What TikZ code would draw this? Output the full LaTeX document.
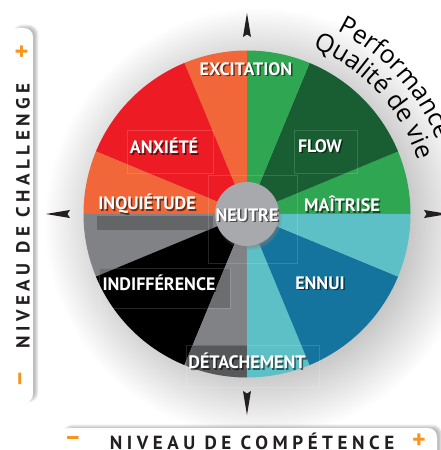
\documentclass[tikz,border=0pt]{standalone}
\usepackage{fontspec}
\setmainfont{PT Sans}
\newfontfamily\axisfont[LetterSpace=24]{PT Sans}
\newfontfamily\arcfont{Open Sans}
\usepackage{tikz}
\usetikzlibrary{shadows,shadows.blur,decorations.text}

\definecolor{lgreen}{HTML}{2EA652}
\definecolor{dgreen}{HTML}{185E32}
\definecolor{lorange}{HTML}{F26739}
\definecolor{mred}{HTML}{ED1C24}
\definecolor{mgray}{HTML}{808285}
\definecolor{lteal}{HTML}{5DC0C6}
\definecolor{mblue}{HTML}{14749D}
\definecolor{hubgray}{HTML}{A7A9AC}
\definecolor{ink}{HTML}{231F20}
\definecolor{signorange}{HTML}{F7941D}

\pgfdeclareradialshading{halo}{\pgfpoint{0bp}{0bp}}{color(0bp)=(black!26); color(16bp)=(black!26); color(25bp)=(white); color(50bp)=(white)}

\newcommand\lblfont{\bfseries\fontsize{18}{18}\selectfont}
\newcommand\curvefont{\arcfont\fontsize{25}{25}\selectfont}

\tikzstyle{lbl} = [font=\lblfont,text=white,inner sep=0pt]
\tikzstyle{lblshadow} = [font=\lblfont,text=black,text opacity=0.55,inner sep=0pt,xshift=1.5pt,yshift=-1.5pt]
\tikzstyle{bar} = [fill=white,rounded corners=9pt,blur shadow={shadow xshift=4pt,shadow yshift=2pt,shadow blur steps=10,shadow opacity=25}]
\tikzstyle{dimbox} = [fill=black,fill opacity=0.22]
\tikzstyle{ghost} = [draw=white,draw opacity=0.14,line width=0.5pt]
\tikzstyle{hub} = [circle,fill=hubgray,minimum size=64pt,inner sep=0pt,circular drop shadow={shadow xshift=2pt,shadow yshift=-3pt,shadow scale=1.04,opacity=0.6}]
\tikzstyle{spike} = [fill=ink]
\tikzstyle{axis} = [font=\axisfont\bfseries\fontsize{19}{19}\selectfont,text=ink,inner sep=0pt]
\tikzstyle{sign} = [font=\bfseries\fontsize{26}{26}\selectfont,text=signorange,inner sep=0pt]

\begin{document}
\begin{tikzpicture}[x=1pt,y=1pt]
    \def\R{163.5}
    \useasboundingbox (-247,-236) rectangle (193,214);

    % soft shadow round the wheel
    \shade[shading=halo] (12,-8) circle (215);

    % the two axis bars
    \draw[bar,draw=none] (-237,-189) rectangle (-214,186);
    \draw[bar,draw=none] (-187,-250) rectangle (190,-214);

    % sectors: 22.5 light, 45 dark, 22.5 light in each quadrant
    \foreach \s/\e/\c in {0/22.5/lgreen, 22.5/67.5/dgreen, 67.5/90/lgreen,
                          90/112.5/lorange, 112.5/157.5/mred, 157.5/180/lorange,
                          180/202.5/mgray, 202.5/247.5/black, 247.5/270/mgray,
                          270/292.5/lteal, 292.5/337.5/mblue, 337.5/360/lteal}
      \fill[\c] (0,0) -- (\s:\R) arc (\s:\e:\R) -- cycle;

    % darker bands over the grey sectors
    \begin{scope}
      \clip (0,0) -- (180:\R) arc (180:202.5:\R) -- cycle
            (0,0) -- (247.5:\R) arc (247.5:270:\R) -- cycle;
      \fill[dimbox] (-150,-2) rectangle (-34,-16);
      \fill[dimbox,fill opacity=0.16] (-148,-54) rectangle (-17,-94);
      \fill[dimbox,fill opacity=0.32] (-61,-131) rectangle (72,-173);
    \end{scope}

    % faint frames
    \draw[ghost] (-120,84) rectangle (-34,41);
    \draw[ghost] (47,84) rectangle (110,41);
    \draw[ghost] (-39,39) rectangle (50,-49);
    \draw[ghost] (-148,-54) rectangle (-17,-94);
    \draw[ghost] (-61,-131) rectangle (72,-173);

    \node[hub] (hub) at (0,0) {};

    \foreach \x/\y/\name/\txt in {-1/145/excitation/EXCITATION, -83/68/anxiete/ANXIÉTÉ,
                                  73/68/flow/FLOW, -100/10/inquietude/INQUIÉTUDE,
                                  95/10/maitrise/MAÎTRISE, 0/-1/neutre/NEUTRE,
                                  -88/-69/indifference/INDIFFÉRENCE, 73/-69/ennui/ENNUI,
                                  0/-147/detachement/DÉTACHEMENT}{
      \node[lblshadow] (\name-s) at (\x,\y) {\txt};
      \node[lbl] (\name) at (\x,\y) {\txt};
    }

    % compass spikes
    \foreach \a in {0,90,180,270}
      \fill[spike,rotate=\a] (0,201) -- (4,177) -- (0,179.5) -- (-4,177) -- cycle;

    % curved titles
    \path[decorate,decoration={text along path,text align=center,
          text={|\curvefont|Performance}}] (80:204) arc (80:5:204);
    \path[decorate,decoration={text along path,text align=center,
          text={|\curvefont|Qualité de vie}}] (84:179) arc (84:2:179);

    % axes
    \node[axis,rotate=90] (challenge) at (-224,-2) {NIVEAU DE CHALLENGE};
    \node[sign,rotate=90] (cplus) at (-224,162) {+};
    \node[sign,rotate=90] (cminus) at (-224,-165) {–};
    \node[axis] (competence) at (5,-227) {NIVEAU DE COMPÉTENCE};
    \node[sign] (kminus) at (-174,-227) {–};
    \node[sign] (kplus) at (172,-227) {+};
\end{tikzpicture}
\end{document}
